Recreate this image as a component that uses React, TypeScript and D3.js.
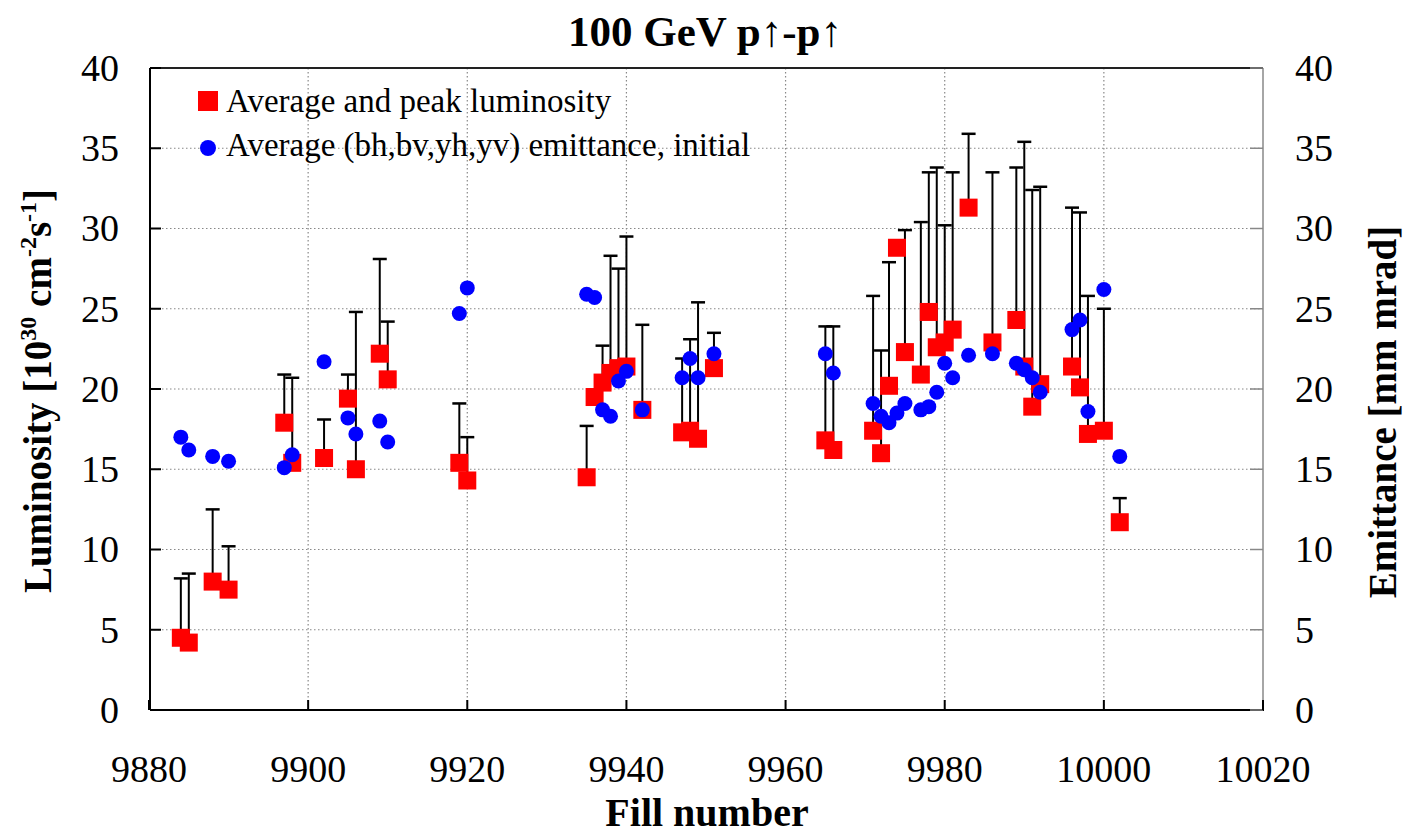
import { useRef, useEffect } from "react";
import * as d3 from "d3";

// luminosity: fill, average, peak
const lumFill = [
  9884, 9885, 9888, 9890, 9897, 9898, 9902, 9905, 9906, 9909, 9910, 9919, 9920,
  9935, 9936, 9937, 9938, 9939, 9940, 9942, 9947, 9948, 9949, 9951, 9965, 9966,
  9971, 9972, 9973, 9974, 9975, 9977, 9978, 9979, 9980, 9981, 9983, 9986, 9989,
  9990, 9991, 9992, 9996, 9997, 9998, 10000, 10002,
];
const lumAvg = [
  4.5, 4.2, 8.0, 7.5, 17.9, 15.4, 15.7, 19.4, 15.0, 22.2, 20.6, 15.4, 14.3,
  14.5, 19.5, 20.4, 21.0, 21.3, 21.4, 18.7, 17.3, 17.4, 16.9, 21.3, 16.8, 16.2,
  17.4, 16.0, 20.2, 28.8, 22.3, 20.9, 24.8, 22.6, 22.9, 23.7, 31.3, 22.9, 24.3,
  21.4, 18.9, 20.3, 21.4, 20.1, 17.2, 17.4, 11.7,
];
const lumPeak = [
  8.2, 8.5, 12.5, 10.2, 20.9, 20.7, 18.1, 20.9, 24.8, 28.1, 24.2, 19.1, 17.0,
  17.7, 19.9, 22.7, 28.3, 27.5, 29.5, 24.0, 21.9, 23.1, 25.4, 23.5, 23.9, 23.9,
  25.8, 22.4, 27.9, 28.8, 29.9, 30.4, 33.5, 33.8, 30.2, 33.5, 35.9, 33.5, 33.8,
  35.4, 32.4, 32.6, 31.3, 31.0, 25.8, 25.0, 13.2,
];

// emittance: fill, initial average
const emitFill = [
  9884, 9885, 9888, 9890, 9897, 9898, 9902, 9905, 9906, 9909, 9910, 9919, 9920,
  9935, 9936, 9937, 9938, 9939, 9940, 9942, 9947, 9948, 9949, 9951, 9965, 9966,
  9971, 9972, 9973, 9974, 9975, 9977, 9978, 9979, 9980, 9981, 9983, 9986, 9989,
  9990, 9991, 9992, 9996, 9997, 9998, 10000, 10002,
];
const emitVal = [
  17.0, 16.2, 15.8, 15.5, 15.1, 15.9, 21.7, 18.2, 17.2, 18.0, 16.7, 24.7, 26.3,
  25.9, 25.7, 18.7, 18.3, 20.5, 21.1, 18.7, 20.7, 21.9, 20.7, 22.2, 22.2, 21.0,
  19.1, 18.3, 17.9, 18.5, 19.1, 18.7, 18.9, 19.8, 21.6, 20.7, 22.1, 22.2, 21.6,
  21.2, 20.7, 19.8, 23.7, 24.3, 18.6, 26.2, 15.8,
];

const xTicks = [9880, 9900, 9920, 9940, 9960, 9980, 10000, 10020];
const yTicks = [0, 5, 10, 15, 20, 25, 30, 35, 40];

export default function App() {
  const ref = useRef<SVGSVGElement>(null);

  function drawChart() {
    const svg = d3.select(ref.current);
    svg.selectAll("*").remove();

    const x = d3.scaleLinear().domain([9880, 10020]).range([149, 1263]);
    const y = d3.scaleLinear().domain([0, 40]).range([710, 68]);
    const x0 = 150,
      x1 = 1263,
      y0 = 710,
      y1 = 68;
    const serif = "'Liberation Serif', 'Times New Roman', serif";

    // grid
    const grid = svg.append("g").attr("stroke", "#888").attr("stroke-width", 1.2)
      .attr("stroke-dasharray", "1.5,2.5");
    grid.selectAll("line.h")
      .data(yTicks.filter((d) => d > 0 && d < 40))
      .join("line")
      .attr("class", "h")
      .attr("x1", x0).attr("x2", x1)
      .attr("y1", (d) => y(d)).attr("y2", (d) => y(d));
    grid.selectAll("line.v")
      .data(xTicks.filter((d) => d > 9880 && d < 10020))
      .join("line")
      .attr("class", "v")
      .attr("x1", (d) => x(d)).attr("x2", (d) => x(d))
      .attr("y1", y1).attr("y2", y0);

    // frame
    svg.append("line").attr("x1", x1).attr("x2", x1).attr("y1", y1).attr("y2", y0)
      .attr("stroke", "#888").attr("stroke-width", 1.5);
    svg.append("line").attr("x1", x0).attr("x2", x1).attr("y1", y1).attr("y2", y1)
      .attr("stroke", "#222").attr("stroke-width", 2);
    svg.append("line").attr("x1", x0).attr("x2", x0).attr("y1", y1).attr("y2", y0)
      .attr("stroke", "#000").attr("stroke-width", 2);
    svg.append("line").attr("x1", x0).attr("x2", x1 + 1).attr("y1", y0).attr("y2", y0)
      .attr("stroke", "#000").attr("stroke-width", 2);

    // ticks (inward)
    svg.append("g").selectAll("line")
      .data(yTicks).join("line")
      .attr("x1", x0).attr("x2", x0 + 11)
      .attr("y1", (d) => y(d)).attr("y2", (d) => y(d))
      .attr("stroke", "#000").attr("stroke-width", 2);
    svg.append("g").selectAll("line")
      .data(yTicks).join("line")
      .attr("x1", x1 - 13).attr("x2", x1)
      .attr("y1", (d) => y(d)).attr("y2", (d) => y(d))
      .attr("stroke", "#888").attr("stroke-width", 1.5);
    svg.append("g").selectAll("line")
      .data(xTicks).join("line")
      .attr("x1", (d) => x(d)).attr("x2", (d) => x(d))
      .attr("y1", y0).attr("y2", y0 - 10)
      .attr("stroke", "#000").attr("stroke-width", 2);

    // tick labels
    svg.append("g").selectAll("text")
      .data(yTicks).join("text")
      .attr("x", 119).attr("y", (d) => y(d)).attr("dy", "0.34em")
      .attr("text-anchor", "end")
      .attr("font-family", serif).attr("font-size", 38)
      .text((d) => d);
    svg.append("g").selectAll("text")
      .data(yTicks).join("text")
      .attr("x", 1295).attr("y", (d) => y(d)).attr("dy", "0.34em")
      .attr("text-anchor", "start")
      .attr("font-family", serif).attr("font-size", 38)
      .text((d) => d);
    svg.append("g").selectAll("text")
      .data(xTicks).join("text")
      .attr("x", (d) => x(d)).attr("y", 782)
      .attr("text-anchor", "middle")
      .attr("font-family", serif).attr("font-size", 38)
      .text((d) => d);

    // titles
    svg.append("text")
      .attr("x", 705).attr("y", 46).attr("text-anchor", "middle")
      .attr("font-family", serif).attr("font-size", 43).attr("font-weight", "bold")
      .text("100 GeV p\u2191-p\u2191");
    svg.append("text")
      .attr("x", 707).attr("y", 826).attr("text-anchor", "middle")
      .attr("font-family", serif).attr("font-size", 40).attr("font-weight", "bold")
      .text("Fill number");

    const yl = svg.append("text")
      .attr("transform", "translate(51,391) rotate(-90)")
      .attr("text-anchor", "middle")
      .attr("font-family", serif).attr("font-size", 39).attr("font-weight", "bold");
    yl.append("tspan").text("Luminosity [10");
    yl.append("tspan").attr("font-size", 24).attr("dy", -15).text("30");
    yl.append("tspan").attr("dy", 15).text(" cm");
    yl.append("tspan").attr("font-size", 24).attr("dy", -15).text("-2");
    yl.append("tspan").attr("dy", 15).text("s");
    yl.append("tspan").attr("font-size", 24).attr("dy", -15).text("-1");
    yl.append("tspan").attr("dy", 15).text("]");

    svg.append("text")
      .attr("transform", "translate(1396,412) rotate(-90)")
      .attr("text-anchor", "middle")
      .attr("font-family", serif).attr("font-size", 39).attr("font-weight", "bold")
      .text("Emittance [mm mrad]");

    // error bars
    const lum = lumFill.map((f, i) => ({ f, avg: lumAvg[i], peak: lumPeak[i] }));
    const bars = svg.append("g").attr("stroke", "#000");
    bars.selectAll("line.stem")
      .data(lum.filter((d) => d.peak > d.avg)).join("line")
      .attr("class", "stem")
      .attr("x1", (d) => x(d.f)).attr("x2", (d) => x(d.f))
      .attr("y1", (d) => y(d.avg)).attr("y2", (d) => y(d.peak))
      .attr("stroke-width", 2);
    bars.selectAll("line.cap")
      .data(lum.filter((d) => d.peak > d.avg)).join("line")
      .attr("class", "cap")
      .attr("x1", (d) => x(d.f) - 7).attr("x2", (d) => x(d.f) + 7)
      .attr("y1", (d) => y(d.peak)).attr("y2", (d) => y(d.peak))
      .attr("stroke-width", 2.5);

    // luminosity squares
    const s = 18;
    svg.append("g").selectAll("rect")
      .data(lum).join("rect")
      .attr("x", (d) => x(d.f) - s / 2).attr("y", (d) => y(d.avg) - s / 2)
      .attr("width", s).attr("height", s)
      .attr("fill", "#ff0000");

    // emittance circles
    svg.append("g").selectAll("circle")
      .data(emitFill.map((f, i) => ({ f, v: emitVal[i] }))).join("circle")
      .attr("cx", (d) => x(d.f)).attr("cy", (d) => y(d.v))
      .attr("r", 7.5)
      .attr("fill", "#0000ff");

    // legend
    const lg = svg.append("g");
    lg.append("rect").attr("x", 198).attr("y", 91).attr("width", 20).attr("height", 20)
      .attr("fill", "#ff0000");
    lg.append("text").attr("x", 226).attr("y", 112)
      .attr("font-family", serif).attr("font-size", 33)
      .text("Average and peak luminosity");
    lg.append("circle").attr("cx", 208).attr("cy", 148).attr("r", 8).attr("fill", "#0000ff");
    lg.append("text").attr("x", 226).attr("y", 156)
      .attr("font-family", serif).attr("font-size", 33)
      .text("Average (bh,bv,yh,yv) emittance, initial");
  }

  useEffect(drawChart, []);
  return (
    <svg
      ref={ref}
      width={1406}
      height={834}
      style={{ position: "absolute", left: 0, top: 0, background: "#fff" }}
    ></svg>
  );
}
